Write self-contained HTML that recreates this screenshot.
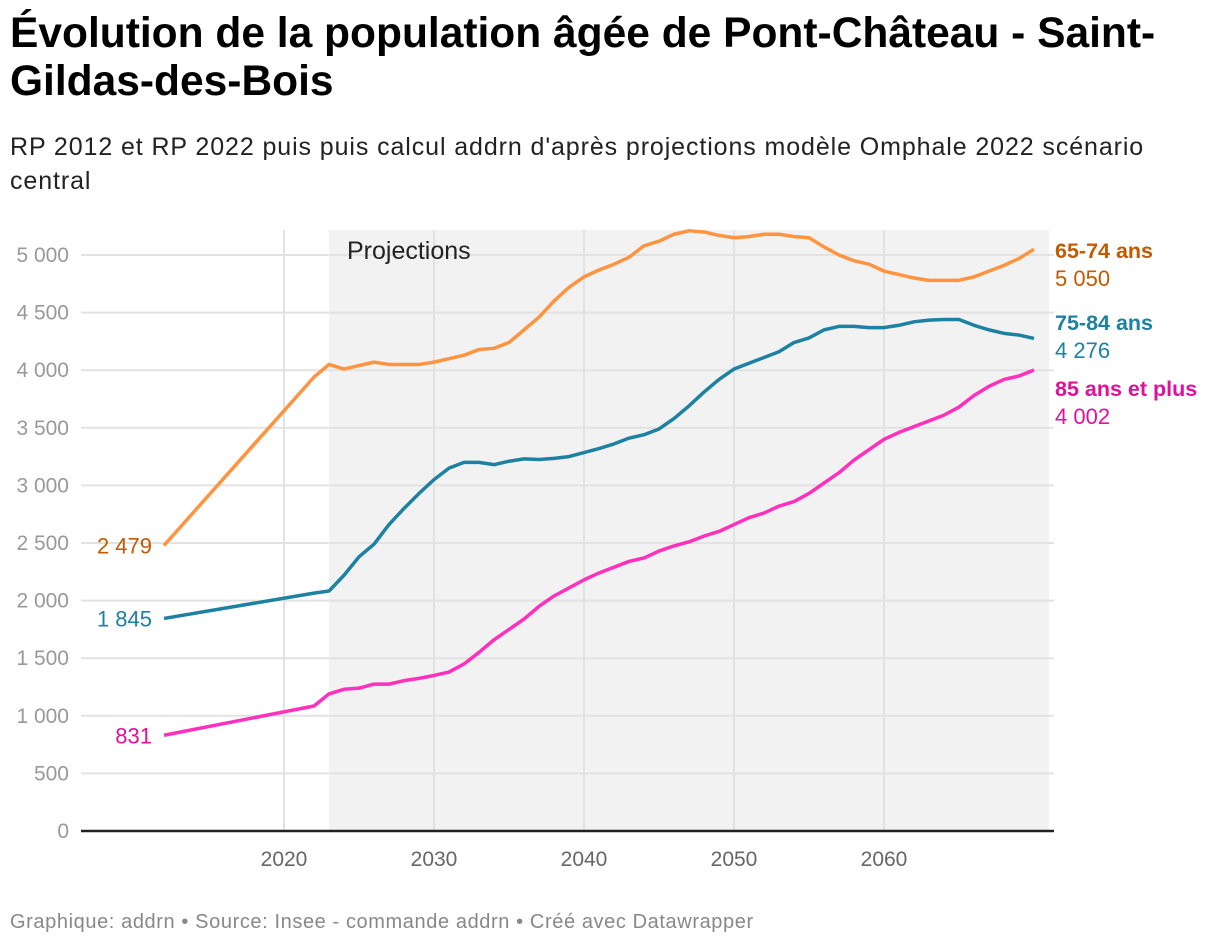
<!DOCTYPE html>
<html><head><meta charset="utf-8"><style>
body{margin:0;background:#fff;font-family:"Liberation Sans",sans-serif;width:1220px;height:948px;overflow:hidden;position:relative}
#title{position:absolute;left:10px;top:10px;font-size:42.5px;font-weight:bold;line-height:48px;color:#000;width:1190px}
#sub{position:absolute;left:10px;top:130px;font-size:25px;letter-spacing:0.9px;line-height:34px;color:#222;width:1190px}
#foot{position:absolute;left:10px;top:911px;font-size:20px;letter-spacing:0.6px;color:#888}
svg{position:absolute;left:0;top:0}
</style></head><body>
<div id="title">Évolution de la population âgée de Pont-Château - Saint-Gildas-des-Bois</div>
<div id="sub">RP 2012 et RP 2022 puis puis calcul addrn d'après projections modèle Omphale 2022 scénario central</div>
<svg id="chart" width="1220" height="948"></svg>
<div id="foot">Graphique: addrn • Source: Insee - commande addrn • Créé avec Datawrapper</div>
<script>
const years=[2012,2022];for(let y=2023;y<=2070;y++)years.push(y);
const s6574=[2479,3940,4050,4010,4040,4070,4050,4050,4050,4070,4100,4130,4180,4190,4240,4350,4460,4600,4720,4810,4870,4920,4980,5080,5120,5180,5210,5200,5170,5150,5160,5180,5180,5160,5150,5070,5000,4950,4920,4860,4830,4800,4780,4780,4780,4810,4860,4910,4970,5050];
const s7584=[1845,2065,2083,2220,2380,2490,2660,2800,2930,3050,3150,3200,3200,3180,3210,3230,3225,3235,3250,3285,3320,3360,3410,3440,3490,3580,3690,3810,3920,4010,4060,4110,4160,4240,4280,4350,4380,4380,4370,4370,4390,4420,4435,4440,4440,4390,4350,4320,4305,4276];
const s85=[831,1085,1190,1230,1240,1275,1275,1305,1325,1350,1380,1450,1550,1660,1750,1840,1950,2040,2110,2180,2240,2290,2340,2370,2430,2475,2510,2560,2600,2660,2720,2760,2820,2860,2930,3020,3110,3220,3310,3400,3460,3510,3560,3610,3680,3780,3860,3920,3950,4002];
const yTicks=[0,500,1000,1500,2000,2500,3000,3500,4000,4500,5000];
const xTicks=[2020,2030,2040,2050,2060];
const seriesNames=["65-74 ans","75-84 ans","85 ans et plus"];
const colors=["#ff9440","#1d81a2","#ff30bc"];
const labelColors=["#c25a00","#1d81a2","#e0109c"];
const X=y=>284+(y-2020)*15;
const Y=v=>831-v*0.1152;
const svg=document.getElementById('chart');const NS='http://www.w3.org/2000/svg';
function mk(t,a,p){const e=document.createElementNS(NS,t);for(const k in a)e.setAttribute(k,a[k]);(p||svg).appendChild(e);return e;}
const shade=mk('rect',{x:X(2023),y:230,width:1049-X(2023),height:601,fill:'#f2f2f2'});


yTicks.forEach(v=>{
 if(v>0){const g=mk('line',{x1:81,x2:1054,y1:Y(v),y2:Y(v),stroke:'#e2e2e2','stroke-width':2});
 
 }
 const t=mk('text',{x:69,y:Y(v)+7,'text-anchor':'end','font-size':21,fill:'#999'});t.textContent=v===0?'0':v.toLocaleString('fr-FR').replace(/\s/g,' ');
 
 
});
xTicks.forEach(v=>{
 const g=mk('line',{x1:X(v),x2:X(v),y1:230,y2:831,stroke:'#e2e2e2','stroke-width':2});
 
 
 const t=mk('text',{x:X(v),y:866,'text-anchor':'middle','font-size':21,fill:'#666'});t.textContent=v;
 
 
});
const pt=mk('text',{x:347,y:259,'font-size':25,fill:'#222'});pt.textContent='Projections';


const ax=mk('line',{x1:81,x2:1054,y1:831,y2:831,stroke:'#222','stroke-width':2.5});


const fmt=v=>v.toLocaleString('fr-FR').replace(/\s/g,' ');
[s6574,s7584,s85].forEach((s,i)=>{
 const p=mk('path',{d:s.map((v,j)=>(j?'L':'M')+X(years[j])+','+Y(v)).join(''),fill:'none',stroke:colors[i],'stroke-width':3.5,'stroke-linejoin':'round'});
 
 
 const st=mk('text',{x:152,y:Y(s[0])+8,'text-anchor':'end','font-size':22,fill:labelColors[i]});st.textContent=fmt(s[0]);
 
 
 const last=s[s.length-1];const ly=[250,322,388][i];
 const n=mk('text',{x:1055,y:ly+8,'font-size':21.5,'font-weight':'bold',fill:labelColors[i]});n.textContent=seriesNames[i];
 
 
 const ev=mk('text',{x:1055,y:ly+36,'font-size':22,fill:labelColors[i]});ev.textContent=fmt(last);
 
 
});
</script>
</body></html>
